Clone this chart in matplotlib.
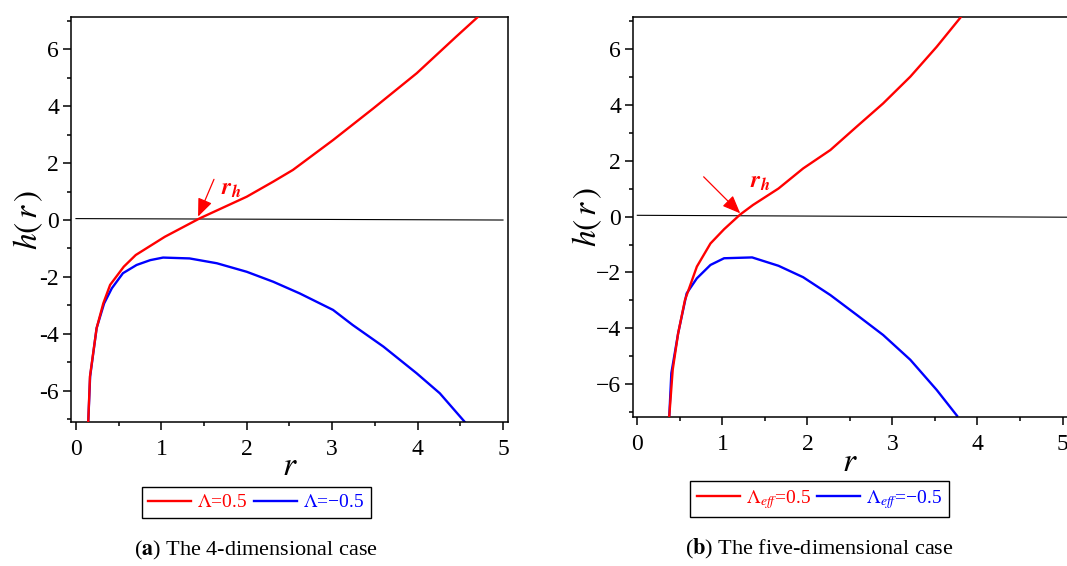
import matplotlib
matplotlib.use("Agg")
import matplotlib.pyplot as plt
import matplotlib.ticker as mticker

plt.rcParams["font.family"] = ["Liberation Serif", "DejaVu Serif"]
plt.rcParams["mathtext.fontset"] = "stix"

RED = "#FF0000"
BLUE = "#0000FF"
MINUS = "\u2212"

# ---------------------------------------------------------------------------
# Data
# ---------------------------------------------------------------------------
# (a) 4-dimensional case
r4_pos = [0.144, 0.164, 0.242, 0.32, 0.40, 0.56, 0.70, 1.04, 1.45, 2.0, 2.31,
          2.54, 3.01, 3.48, 3.99, 4.45, 4.71]
h4_pos = [-7.09, -5.5, -3.8, -2.93, -2.28, -1.64, -1.23, -0.59, 0.06, 0.82,
          1.35, 1.76, 2.81, 3.92, 5.16, 6.44, 7.15]
r4_neg = [0.144, 0.166, 0.242, 0.33, 0.42, 0.55, 0.71, 0.87, 1.02, 1.33, 1.65,
          2.0, 2.31, 2.62, 3.01, 3.24, 3.60, 3.99, 4.26, 4.55]
h4_neg = [-7.09, -5.5, -3.8, -2.93, -2.40, -1.87, -1.58, -1.41, -1.32, -1.35,
          -1.52, -1.82, -2.17, -2.58, -3.16, -3.69, -4.45, -5.39, -6.09, -7.09]
r4_axis = [0.0, 5.0]
h4_axis = [0.05, 0.0]

# (b) five-dimensional case
r5_pos = [0.376, 0.416, 0.48, 0.56, 0.70, 0.86, 1.02, 1.21, 1.36, 1.66, 1.95,
          2.27, 2.58, 2.89, 3.21, 3.52, 3.80]
h5_pos = [-7.14, -5.49, -4.18, -2.99, -1.79, -0.96, -0.45, 0.08, 0.42, 1.01,
          1.73, 2.39, 3.23, 4.06, 5.02, 6.09, 7.14]
r5_neg = [0.376, 0.40, 0.48, 0.58, 0.70, 0.86, 1.02, 1.35, 1.66, 1.95, 2.27,
          2.58, 2.89, 3.21, 3.52, 3.76]
h5_neg = [-7.14, -5.61, -4.18, -2.75, -2.21, -1.73, -1.49, -1.46, -1.76,
          -2.17, -2.81, -3.52, -4.24, -5.13, -6.21, -7.14]
r5_axis = [0.0, 5.2]
h5_axis = [0.05, -0.02]

x_ticks = [0, 1, 2, 3, 4, 5]
y_ticks = [-6, -4, -2, 0, 2, 4, 6]
y_labels_a = ["-6", "-4", "-2", "0", "2", "4", "6"]
y_labels_b = [MINUS + "6", MINUS + "4", MINUS + "2", "0", "2", "4", "6"]

labels_a = [r"$\Lambda$=0.5", r"$\Lambda$=" + MINUS + "0.5"]
labels_b = [r"$\Lambda_{eff}$=0.5", r"$\Lambda_{eff}$=" + MINUS + "0.5"]
captions = [r"($\mathbf{a}$) The 4-dimensional case",
            r"($\mathbf{b}$) The five-dimensional case"]

# horizon arrows: (tail, head, label position)
arrow_a = ((1.616, 1.43), (1.43, 0.12), (1.70, 1.08))
arrow_b = ((0.78, 1.43), (1.21, 0.12), (1.33, 1.22))


def style_axes(ax, xlim, ylim, ylabels, ylab_x, xlab_y):
    for sp in ax.spines.values():
        sp.set_linewidth(1.1)
        sp.set_color("black")
    ax.set_xlim(*xlim)
    ax.set_ylim(*ylim)
    ax.set_xticks(x_ticks)
    ax.set_yticks(y_ticks)
    ax.set_yticklabels(ylabels)
    ax.xaxis.set_minor_locator(mticker.MultipleLocator(0.5))
    ax.yaxis.set_minor_locator(mticker.MultipleLocator(1))
    ax.tick_params(which="both", direction="out", top=False, right=False,
                   width=1.1, colors="black", labelsize=17)
    ax.tick_params(which="major", length=5.5)
    ax.tick_params(which="minor", length=3)
    ax.tick_params(axis="x", pad=7)
    ax.tick_params(axis="y", pad=3)
    ax.set_xlabel(r"$r$", fontsize=24, va="center")
    ax.set_ylabel(r"$h(\,r\,)$", fontsize=24, va="center")
    ax.xaxis.set_label_coords(0.5, xlab_y)
    ax.yaxis.set_label_coords(ylab_x, 0.5)


def draw_panel(ax, rp, hp, rn, hn, ra, ha, arrow, labels, leg_xy):
    ax.plot(ra, ha, color="black", lw=0.8, zorder=1)
    lp, = ax.plot(rp, hp, color=RED, lw=1.7, zorder=3, label=labels[0])
    ln, = ax.plot(rn, hn, color=BLUE, lw=1.7, zorder=2, label=labels[1])
    tail, head, lab = arrow
    ax.annotate("", xy=head, xytext=tail,
                arrowprops=dict(arrowstyle="-|>,head_length=1.1,head_width=0.45",
                                color=RED, lw=0.9, shrinkA=0, shrinkB=0))
    ax.text(lab[0], lab[1], r"$\mathbfit{r}_{\mathbfit{h}}$", color=RED,
            fontsize=17, ha="left", va="center")
    ax.legend(handles=[lp, ln], loc="center", bbox_to_anchor=leg_xy,
              bbox_transform=ax.figure.transFigure, ncol=2, fontsize=14,
              frameon=True, fancybox=False, edgecolor="black", framealpha=1,
              labelcolor="linecolor", handlelength=2.2, handletextpad=0.3,
              columnspacing=0.35, borderpad=0.35, borderaxespad=0)


fig = plt.figure(figsize=(10.67, 5.66), dpi=100)
fig.patch.set_facecolor("white")

ax_a = fig.add_axes([0.0665, 0.2544, 0.4096, 0.7155])
ax_b = fig.add_axes([0.593, 0.2638, 0.4076, 0.7067])

style_axes(ax_a, (-0.0585, 5.0585), (-7.1, 7.135), y_labels_a, -0.098, -0.111)
style_axes(ax_b, (-0.054, 5.06), (-7.17, 7.17), y_labels_b, -0.105, -0.116)

draw_panel(ax_a, r4_pos, h4_pos, r4_neg, h4_neg, r4_axis, h4_axis,
           arrow_a, labels_a, (0.240, 0.112))
draw_panel(ax_b, r5_pos, h5_pos, r5_neg, h5_neg, r5_axis, h5_axis,
           arrow_b, labels_b, (0.768, 0.118))

fig.text(0.2404, 0.027, captions[0], fontsize=16, ha="center", va="center")
fig.text(0.768, 0.030, captions[1], fontsize=16, ha="center", va="center")

fig.savefig("out.png", dpi=100, facecolor="white")
